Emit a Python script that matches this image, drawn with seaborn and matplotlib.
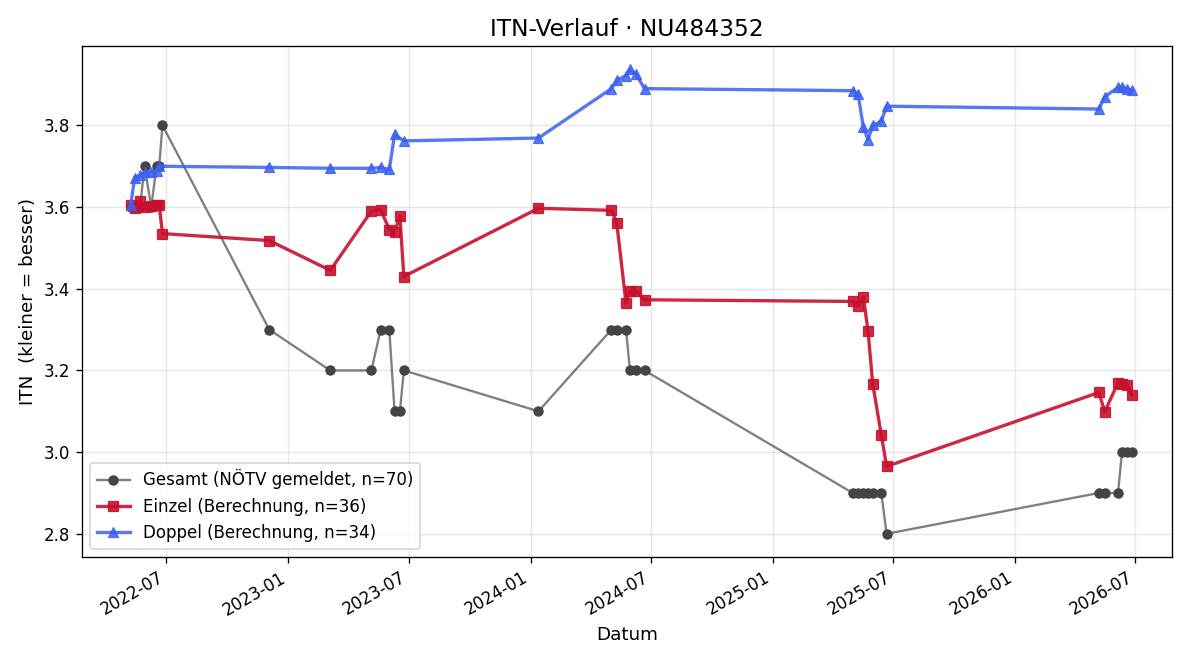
import pandas as pd
import matplotlib
matplotlib.use("Agg")
import matplotlib.pyplot as plt
import matplotlib.dates as mdates
import seaborn as sns

# Gesamt-ITN (NÖTV gemeldet)
gesamt_dates = ["2022-05-08", "2022-05-14", "2022-05-22", "2022-05-29", "2022-06-08", "2022-06-16",
                "2022-06-20", "2022-06-25", "2022-12-03", "2023-03-05", "2023-05-06", "2023-05-20",
                "2023-06-02", "2023-06-10", "2023-06-18", "2023-06-24", "2024-01-13", "2024-05-02",
                "2024-05-10", "2024-05-24", "2024-05-30", "2024-06-08", "2024-06-21", "2025-05-01",
                "2025-05-09", "2025-05-17", "2025-05-24", "2025-05-31", "2025-06-13", "2025-06-21",
                "2026-05-07", "2026-05-16", "2026-06-05", "2026-06-11", "2026-06-19", "2026-06-26"]
gesamt_itn = [3.6, 3.6, 3.6, 3.7, 3.6, 3.7,
              3.7, 3.8, 3.3, 3.2, 3.2, 3.3,
              3.3, 3.1, 3.1, 3.2, 3.1, 3.3,
              3.3, 3.3, 3.2, 3.2, 3.2, 2.9,
              2.9, 2.9, 2.9, 2.9, 2.9, 2.8,
              2.9, 2.9, 2.9, 3.0, 3.0, 3.0]

# Einzel (Berechnung)
einzel_dates = ["2022-05-08", "2022-05-14", "2022-05-22", "2022-05-29", "2022-06-08", "2022-06-16",
                "2022-06-20", "2022-06-25", "2022-12-03", "2023-03-05", "2023-05-06", "2023-05-20",
                "2023-06-02", "2023-06-10", "2023-06-18", "2023-06-24", "2024-01-13", "2024-05-02",
                "2024-05-10", "2024-05-24", "2024-05-30", "2024-06-08", "2024-06-21", "2025-05-01",
                "2025-05-09", "2025-05-17", "2025-05-24", "2025-05-31", "2025-06-13", "2025-06-21",
                "2026-05-07", "2026-05-16", "2026-06-05", "2026-06-11", "2026-06-19", "2026-06-26"]
einzel_itn = [3.606, 3.597, 3.616, 3.600, 3.602, 3.605,
              3.605, 3.535, 3.518, 3.445, 3.590, 3.594,
              3.545, 3.540, 3.577, 3.430, 3.597, 3.592,
              3.562, 3.365, 3.395, 3.395, 3.373, 3.369,
              3.358, 3.380, 3.296, 3.168, 3.042, 2.965,
              3.146, 3.099, 3.170, 3.168, 3.165, 3.140]

# Doppel (Berechnung)
doppel_dates = ["2022-05-08", "2022-05-14", "2022-05-22", "2022-05-29", "2022-06-08", "2022-06-16",
                "2022-06-20", "2022-12-03", "2023-03-05", "2023-05-06", "2023-05-20", "2023-06-02",
                "2023-06-10", "2023-06-24", "2024-01-13", "2024-05-02", "2024-05-10", "2024-05-24",
                "2024-05-30", "2024-06-08", "2024-06-21", "2025-05-01", "2025-05-09", "2025-05-17",
                "2025-05-24", "2025-05-31", "2025-06-13", "2025-06-21", "2026-05-07", "2026-05-16",
                "2026-06-05", "2026-06-11", "2026-06-19", "2026-06-26"]
doppel_itn = [3.604, 3.672, 3.678, 3.685, 3.686, 3.688,
              3.700, 3.697, 3.695, 3.695, 3.697, 3.692,
              3.778, 3.762, 3.769, 3.890, 3.910, 3.922,
              3.937, 3.925, 3.890, 3.885, 3.876, 3.795,
              3.765, 3.800, 3.810, 3.847, 3.840, 3.870,
              3.893, 3.893, 3.890, 3.886]

gesamt = pd.DataFrame({"datum": pd.to_datetime(gesamt_dates), "itn": gesamt_itn})
einzel = pd.DataFrame({"datum": pd.to_datetime(einzel_dates), "itn": einzel_itn})
doppel = pd.DataFrame({"datum": pd.to_datetime(doppel_dates), "itn": doppel_itn})

fig, ax = plt.subplots(figsize=(10, 5.5), dpi=120)

sns.lineplot(data=gesamt, x="datum", y="itn", ax=ax, estimator=None, sort=False,
             color=(0.2, 0.2, 0.2, 0.62), linewidth=1.4, marker="o", markersize=5.5,
             markerfacecolor="#444444", markeredgecolor="#444444",
             label="Gesamt (NÖTV gemeldet, n=70)")
sns.lineplot(data=einzel, x="datum", y="itn", ax=ax, estimator=None, sort=False,
             color="#c8102e", alpha=0.9, linewidth=2, marker="s", markersize=6.5,
             markeredgecolor="#c8102e", label="Einzel (Berechnung, n=36)")
sns.lineplot(data=doppel, x="datum", y="itn", ax=ax, estimator=None, sort=False,
             color="#3a60f0", alpha=0.85, linewidth=2, marker="^", markersize=6.5,
             markeredgecolor="#3a60f0", label="Doppel (Berechnung, n=34)")

ax.set_title("ITN-Verlauf · NU484352", fontsize=14)
ax.set_xlabel("Datum", fontsize=11)
ax.set_ylabel("ITN  (kleiner = besser)", fontsize=11)
ax.grid(True, alpha=0.3)
ax.set_xlim(pd.Timestamp("2022-02-23"), pd.Timestamp("2026-08-26"))
ax.xaxis.set_major_locator(mdates.MonthLocator(bymonth=[1, 7]))
ax.xaxis.set_major_formatter(mdates.DateFormatter("%Y-%m"))
fig.autofmt_xdate()
ax.legend(loc="lower left", fontsize=10)

fig.subplots_adjust(left=0.068, right=0.977, top=0.930, bottom=0.156)
fig.savefig("out.png", dpi=120)
plt.close(fig)
